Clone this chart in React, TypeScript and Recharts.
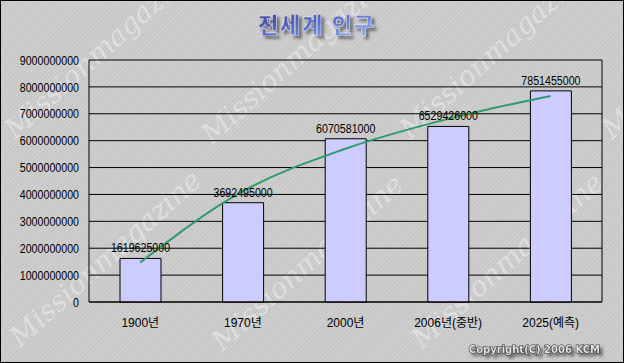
import React from 'react';
import {
  ComposedChart,
  Bar,
  Line,
  XAxis,
  YAxis,
  CartesianGrid,
  LabelList,
} from 'recharts';

const categories = ['1900년', '1970년', '2000년', '2006년(중반)', '2025(예측)'];
const population = [1619625000, 3692495000, 6070581000, 6529426000, 7851455000];
// logarithmic trend line values
const trend = [1470000000, 4120000000, 5700000000, 6810000000, 7660000000];
const yTicks = [0, 1000000000, 2000000000, 3000000000, 4000000000, 5000000000, 6000000000, 7000000000, 8000000000, 9000000000];
const title = '전세계 인구';
const copyright = 'Copyright(C) 2006 KCM';
const watermark = 'Missionmagazine';

const data = categories.map((c, i) => ({ name: c, pop: population[i], trend: trend[i] }));

const FONT = '"Liberation Sans", "Noto Sans CJK KR", sans-serif';
const SX = 0.82;

const W = 624;
const H = 363;

const wmSpots = [
  [15, 140], [20, 348], [212, 145], [222, 352], [410, 140], [422, 350], [612, 140],
];

const YTick = (props: any) => {
  const { x, y, payload } = props;
  return (
    <g transform={`translate(${x},${y}) scale(${SX},1)`}>
      <text x={0} y={0} dy="0.36em" textAnchor="end" fontSize={13} fontFamily={FONT} fill="#000">
        {String(payload.value)}
      </text>
    </g>
  );
};

const TopLabel = (props: any) => {
  const { x, y, width, value } = props;
  const cx = Number(x) + Number(width) / 2;
  return (
    <g transform={`translate(${cx},${Number(y) - 6}) scale(${SX},1)`}>
      <text x={0} y={0} textAnchor="middle" fontSize={13} fontFamily={FONT} fill="#000">
        {String(value)}
      </text>
    </g>
  );
};

export default function App() {
  return (
    <div
      style={{
        position: 'absolute',
        left: 0,
        top: 0,
        width: W,
        height: H,
        overflow: 'hidden',
        background:
          'repeating-linear-gradient(135deg, #cfcfcf 0px, #cfcfcf 1px, #c6c6c6 2px, #c6c6c6 3px)',
      }}
    >
      <svg width={W} height={H} style={{ position: 'absolute', left: 0, top: 0 }}>
        {wmSpots.map(([x, y], i) => (
          <text
            key={i}
            x={x}
            y={y}
            transform={`rotate(-42 ${x} ${y})`}
            fontFamily='"DejaVu Serif", serif'
            fontStyle="italic"
            fontSize={28}
            fill="#ffffff"
            fillOpacity={0.4}
          >
            {watermark}
          </text>
        ))}
      </svg>
      <div style={{ position: 'absolute', left: 0, top: 0 }}>
        <ComposedChart
          width={W}
          height={H}
          data={data}
          margin={{ top: 60, right: 21, bottom: 0, left: 0 }}
        >
          <CartesianGrid yAxisId="l" vertical={false} stroke="#000" strokeWidth={1} />
          <XAxis
            dataKey="name"
            height={61}
            axisLine={{ stroke: '#000' }}
            tickLine={false}
            tickSize={0}
            tickMargin={16}
            interval={0}
            tick={{ fill: '#000', fontSize: 12, fontFamily: FONT }}
          />
          <YAxis
            yAxisId="l"
            width={89}
            domain={[0, 9000000000]}
            ticks={yTicks}
            interval={0}
            axisLine={{ stroke: '#000' }}
            tickLine={false}
            tickSize={0}
            tickMargin={10}
            tick={<YTick />}
          />
          <YAxis
            yAxisId="r"
            orientation="right"
            width={1}
            domain={[0, 9000000000]}
            ticks={yTicks}
            axisLine={{ stroke: '#000' }}
            tickLine={false}
            tick={false}
          />
          <Bar
            yAxisId="l"
            dataKey="pop"
            fill="#ccccff"
            stroke="#000"
            strokeWidth={1}
            barSize={41}
            isAnimationActive={false}
          >
            <LabelList dataKey="pop" content={<TopLabel />} />
          </Bar>
          <Line
            yAxisId="l"
            dataKey="trend"
            type="monotone"
            stroke="#2f9a6c"
            strokeWidth={2}
            dot={false}
            activeDot={false}
            isAnimationActive={false}
          />
        </ComposedChart>
      </div>
      <svg width={W} height={H} style={{ position: 'absolute', left: 0, top: 0, pointerEvents: 'none' }}>
        <defs>
          <linearGradient id="tg" x1="0" y1="0" x2="1" y2="1">
            <stop offset="0" stopColor="#3a3a8a" />
            <stop offset="0.5" stopColor="#5a70c4" />
            <stop offset="1" stopColor="#9cc0f0" />
          </linearGradient>
          <filter id="sh" x="-20%" y="-40%" width="140%" height="180%">
            <feGaussianBlur in="SourceAlpha" stdDeviation="1.6" />
            <feOffset dx="3" dy="3" result="b" />
            <feFlood floodColor="#555" floodOpacity="0.8" />
            <feComposite in2="b" operator="in" />
            <feMerge>
              <feMergeNode />
              <feMergeNode in="SourceGraphic" />
            </feMerge>
          </filter>
        </defs>
        <text
          x={317}
          y={33}
          textAnchor="middle"
          fontFamily='"Noto Sans CJK KR", sans-serif'
          fontWeight={900}
          fontSize={22}
          letterSpacing={2}
          fill="url(#tg)"
          stroke="#e8e8f8"
          strokeWidth={0.4}
          filter="url(#sh)"
        >
          {title}
        </text>
        <text
          x={600}
          y={353}
          textAnchor="end"
          fontFamily='"DejaVu Sans", sans-serif'
          fontWeight={700}
          fontSize={10}
          fill="#e0e0e0"
          stroke="#333"
          strokeWidth={1.2}
          paintOrder="stroke"
          filter="url(#sh)"
        >
          {copyright}
        </text>
        <rect x={0.5} y={0.5} width={W - 1} height={H - 1} fill="none" stroke="#000" strokeWidth={1} />
      </svg>
    </div>
  );
}
